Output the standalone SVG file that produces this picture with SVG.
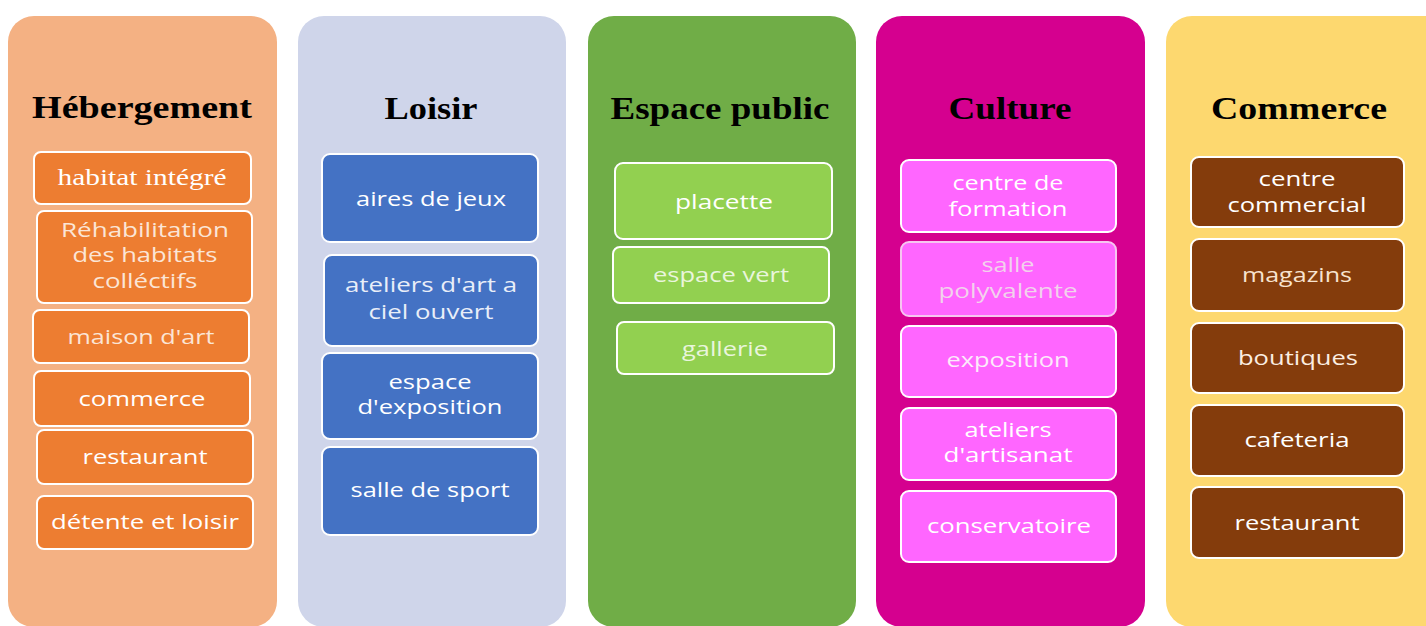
<svg xmlns="http://www.w3.org/2000/svg" width="1426" height="626" viewBox="0 0 1426 626">
<style>
.col{stroke:none}
.ttl{font-family:"Liberation Serif","Times New Roman",serif;font-weight:bold;font-size:31px;fill:#000;text-anchor:middle}
.box{stroke:#fff;stroke-width:2}
.t{font-family:"Open Sans","Noto Sans",sans-serif;font-size:20px;fill:#fff;text-anchor:middle}
.ts{font-family:"Liberation Serif","Times New Roman",serif;font-size:24px;fill:#fff;text-anchor:middle}
.o{fill:#ED7D31}.b{fill:#4472C4}.g{fill:#92D050}.p{fill:#FF66FF}.br{fill:#843C0C}
</style>
<rect width="1426" height="626" fill="#fff"/>
<g id="col-hebergement">
<rect class="col" x="8" y="16" width="269" height="611" rx="26" fill="#F4B183"/>
<text class="ttl" x="142" y="118" textLength="220" lengthAdjust="spacingAndGlyphs">Hébergement</text>
</g>
<g id="col-loisir">
<rect class="col" x="298" y="16" width="268" height="611" rx="26" fill="#CFD5EA"/>
<text class="ttl" x="431" y="119" textLength="93" lengthAdjust="spacingAndGlyphs">Loisir</text>
</g>
<g id="col-espace">
<rect class="col" x="588" y="16" width="268" height="611" rx="26" fill="#70AD47"/>
<text class="ttl" x="720" y="119" textLength="219" lengthAdjust="spacingAndGlyphs">Espace public</text>
</g>
<g id="col-culture">
<rect class="col" x="876" y="16" width="269" height="611" rx="26" fill="#D5008F"/>
<text class="ttl" x="1010" y="119" textLength="123" lengthAdjust="spacingAndGlyphs">Culture</text>
</g>
<g id="col-commerce">
<rect class="col" x="1166" y="16" width="290" height="611" rx="26" fill="#FDD86F"/>
<text class="ttl" x="1299" y="119" textLength="176" lengthAdjust="spacingAndGlyphs">Commerce</text>
</g>

<g id="n-habitat"><rect class="box o" x="34" y="152" width="217" height="52" rx="7"/>
<text class="ts" x="142" y="185" textLength="169" lengthAdjust="spacingAndGlyphs">habitat intégré</text></g>
<g id="n-rehab"><rect class="box o" x="37" y="211" width="215" height="92" rx="7"/>
<text class="t" x="145" y="237" textLength="168" lengthAdjust="spacingAndGlyphs" style="fill:#FBE5D6">Réhabilitation</text>
<text class="t" x="145" y="262" textLength="145" lengthAdjust="spacingAndGlyphs" style="fill:#FBE5D6">des habitats</text>
<text class="t" x="145" y="288" textLength="105" lengthAdjust="spacingAndGlyphs" style="fill:#FBE5D6">colléctifs</text></g>
<g id="n-maison"><rect class="box o" x="33" y="310" width="216" height="53" rx="7"/>
<text class="t" x="141" y="344" textLength="147" lengthAdjust="spacingAndGlyphs" style="fill:#FBE5D6">maison d'art</text></g>
<g id="n-commerce1"><rect class="box o" x="34" y="371" width="216" height="55" rx="7"/>
<text class="t" x="142" y="406" textLength="127" lengthAdjust="spacingAndGlyphs">commerce</text></g>
<g id="n-restaurant1"><rect class="box o" x="37" y="430" width="216" height="54" rx="7"/>
<text class="t" x="145" y="464" textLength="125" lengthAdjust="spacingAndGlyphs">restaurant</text></g>
<g id="n-detente"><rect class="box o" x="37" y="496" width="216" height="53" rx="7"/>
<text class="t" x="145" y="529" textLength="188" lengthAdjust="spacingAndGlyphs">détente et loisir</text></g>

<g id="n-aires"><rect class="box b" x="322" y="154" width="216" height="88" rx="8"/>
<text class="t" x="431" y="206" textLength="150" lengthAdjust="spacingAndGlyphs">aires de jeux</text></g>
<g id="n-ateliers-art"><rect class="box b" x="324" y="255" width="214" height="91" rx="8"/>
<text class="t" x="431" y="292" textLength="172" lengthAdjust="spacingAndGlyphs" style="fill:#E9EEF8">ateliers d'art a</text>
<text class="t" x="431" y="319" textLength="125" lengthAdjust="spacingAndGlyphs" style="fill:#E9EEF8">ciel ouvert</text></g>
<g id="n-espace-expo"><rect class="box b" x="322" y="353" width="216" height="86" rx="8"/>
<text class="t" x="430" y="389" textLength="83" lengthAdjust="spacingAndGlyphs">espace</text>
<text class="t" x="430" y="414" textLength="145" lengthAdjust="spacingAndGlyphs">d'exposition</text></g>
<g id="n-sport"><rect class="box b" x="322" y="447" width="216" height="88" rx="8"/>
<text class="t" x="430" y="497" textLength="159" lengthAdjust="spacingAndGlyphs">salle de sport</text></g>

<g id="n-placette"><rect class="box g" x="615" y="163" width="217" height="76" rx="8"/>
<text class="t" x="724" y="209" textLength="98" lengthAdjust="spacingAndGlyphs">placette</text></g>
<g id="n-espace-vert"><rect class="box g" x="613" y="247" width="216" height="56" rx="7"/>
<text class="t" x="721" y="282" textLength="136" lengthAdjust="spacingAndGlyphs" style="fill:#E9F5DC">espace vert</text></g>
<g id="n-gallerie"><rect class="box g" x="617" y="322" width="217" height="52" rx="7"/>
<text class="t" x="725" y="356" textLength="86" lengthAdjust="spacingAndGlyphs" style="fill:#E9F5DC">gallerie</text></g>

<g id="n-formation"><rect class="box p" x="901" y="160" width="215" height="72" rx="8"/>
<text class="t" x="1008" y="190" textLength="111" lengthAdjust="spacingAndGlyphs">centre de</text>
<text class="t" x="1008" y="216" textLength="119" lengthAdjust="spacingAndGlyphs">formation</text></g>
<g id="n-polyvalente"><rect class="box p" x="901" y="242" width="215" height="74" rx="8" style="stroke:#F6C6F0"/>
<text class="t" x="1008" y="272" textLength="53" lengthAdjust="spacingAndGlyphs" style="fill:#F2D2EC">salle</text>
<text class="t" x="1008" y="298" textLength="139" lengthAdjust="spacingAndGlyphs" style="fill:#F2D2EC">polyvalente</text></g>
<g id="n-exposition"><rect class="box p" x="901" y="326" width="215" height="71" rx="8"/>
<text class="t" x="1008" y="367" textLength="123" lengthAdjust="spacingAndGlyphs" style="fill:#FCEAFA">exposition</text></g>
<g id="n-artisanat"><rect class="box p" x="901" y="408" width="215" height="72" rx="8"/>
<text class="t" x="1008" y="437" textLength="87" lengthAdjust="spacingAndGlyphs">ateliers</text>
<text class="t" x="1008" y="462" textLength="129" lengthAdjust="spacingAndGlyphs">d'artisanat</text></g>
<g id="n-conservatoire"><rect class="box p" x="901" y="491" width="215" height="71" rx="8"/>
<text class="t" x="1009" y="533" textLength="164" lengthAdjust="spacingAndGlyphs">conservatoire</text></g>

<g id="n-centre-commercial"><rect class="box br" x="1191" y="157" width="213" height="70" rx="8"/>
<text class="t" x="1297" y="186" textLength="77" lengthAdjust="spacingAndGlyphs">centre</text>
<text class="t" x="1297" y="212" textLength="139" lengthAdjust="spacingAndGlyphs">commercial</text></g>
<g id="n-magazins"><rect class="box br" x="1191" y="239" width="213" height="72" rx="8"/>
<text class="t" x="1297" y="282" textLength="110" lengthAdjust="spacingAndGlyphs" style="fill:#F8E3CF">magazins</text></g>
<g id="n-boutiques"><rect class="box br" x="1191" y="323" width="213" height="70" rx="8"/>
<text class="t" x="1298" y="365" textLength="120" lengthAdjust="spacingAndGlyphs" style="fill:#FBEEE2">boutiques</text></g>
<g id="n-cafeteria"><rect class="box br" x="1191" y="405" width="213" height="71" rx="8"/>
<text class="t" x="1297" y="447" textLength="105" lengthAdjust="spacingAndGlyphs">cafeteria</text></g>
<g id="n-restaurant2"><rect class="box br" x="1191" y="487" width="213" height="71" rx="8"/>
<text class="t" x="1297" y="530" textLength="125" lengthAdjust="spacingAndGlyphs">restaurant</text></g>

<g id="connectors"></g>
</svg>
